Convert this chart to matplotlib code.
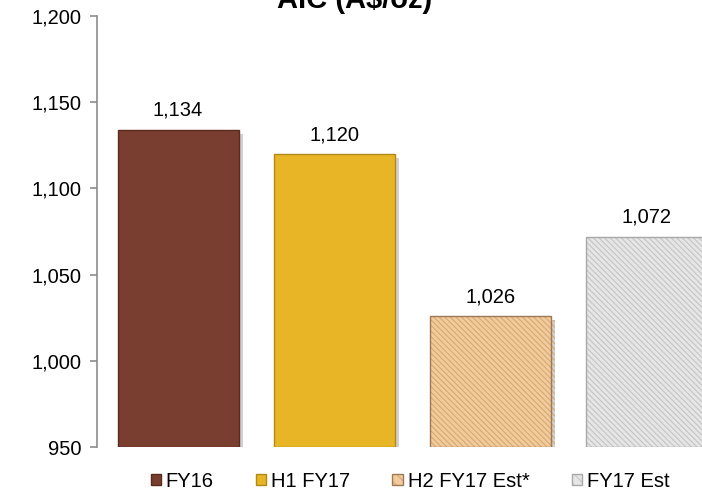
import matplotlib
matplotlib.use('Agg')
import matplotlib.pyplot as plt
import matplotlib.patheffects as pe
from matplotlib.patches import Patch
from matplotlib.ticker import FuncFormatter

categories = ['FY16', 'H1 FY17', 'H2 FY17 Est*', 'FY17 Est']
values = [1134, 1120, 1026, 1072]
colors = ['#7A3E30', '#E8B526', '#F1CB9C', '#E6E6E6']
edges = ['#5A2A1E', '#B08A18', '#9C7A58', '#A8A8A8']
hatches = [None, None, '\\\\\\\\\\\\', '\\\\\\\\\\\\']
hatch_colors = [None, None, '#D8A870', '#C4C4C4']

plt.rcParams['font.family'] = ['Liberation Sans', 'DejaVu Sans']
plt.rcParams['font.size'] = 14.5
plt.rcParams['hatch.linewidth'] = 0.8

fig = plt.figure(figsize=(7.02, 4.99), dpi=100)
ax = fig.add_axes([97 / 702, 52 / 499, 624 / 702, 431 / 499])

handles = []
for i, (v, c, ec, h, hc) in enumerate(zip(values, colors, edges, hatches, hatch_colors)):
    b = ax.bar(i, v - 950, bottom=950, width=0.776, color=c, edgecolor=ec,
               linewidth=1.0, zorder=3)[0]
    proxy = Patch(facecolor=c, edgecolor=ec, linewidth=1.0)
    if h:
        b.set_hatch(h)
        b._hatch_color = matplotlib.colors.to_rgba(hc)
        proxy.set_hatch('\\\\\\')
        proxy._hatch_color = matplotlib.colors.to_rgba(hc)
    b.set_path_effects([pe.SimplePatchShadow(offset=(3, -3), shadow_rgbFace='#9a9a9a', alpha=0.45),
                        pe.Normal()])
    handles.append(proxy)
    ax.text(i, v + 8, f'{v:,}', ha='center', va='baseline', fontsize=14.5)

ax.set_xlim(-0.52, 3.48)
ax.set_ylim(950, 1200)
ax.set_yticks([950, 1000, 1050, 1100, 1150, 1200])
ax.yaxis.set_major_formatter(FuncFormatter(lambda v, p: f'{int(v):,}'))
ax.set_xticks([])
for s in ['top', 'right', 'bottom']:
    ax.spines[s].set_visible(False)
ax.spines['left'].set_color('#8c8c8c')
ax.spines['left'].set_linewidth(1.2)
ax.tick_params(axis='y', direction='out', length=5, width=1.2, color='#8c8c8c', pad=6, labelsize=14.5)

# title sits partly above the top edge, as in the source image
fig.text(0.505, 0.984, 'AIC (A$/oz)', ha='center', va='baseline', fontsize=21, fontweight='bold')

leg = fig.legend(handles=handles, labels=categories, loc='center', bbox_to_anchor=(0.584, 0.036),
                 ncol=4, frameon=False, handlelength=0.5, handleheight=0.5, handletextpad=0.25,
                 columnspacing=2.1, fontsize=14.5)

fig.savefig('out.png', dpi=100)
